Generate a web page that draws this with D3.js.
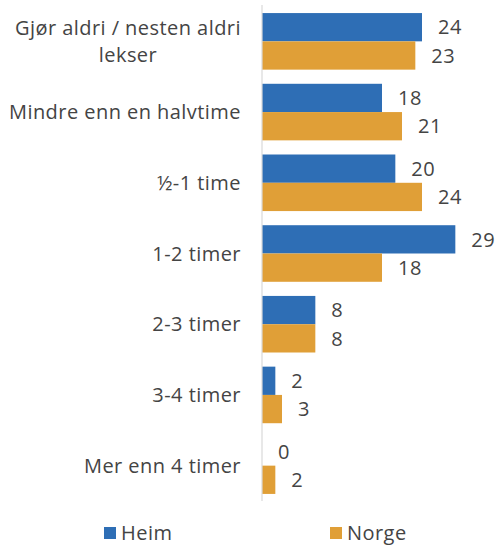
<!DOCTYPE html>
<html>
<head>
<meta charset="utf-8">
<script src="https://cdn.jsdelivr.net/npm/d3@7"></script>
<style>
  html, body { margin: 0; padding: 0; background: #fff; }
  svg { display: block; }
  text { font-family: "Open Sans", "Noto Sans", sans-serif; fill: #444; letter-spacing: 0.45px; }
</style>
</head>
<body>
<svg id="chart" width="503" height="546"></svg>
<script>
// Time spent on homework: Heim vs. Norge (percent)
const categories = [
  ["Gjør aldri / nesten aldri", "lekser"],
  ["Mindre enn en halvtime"],
  ["½-1 time"],
  ["1-2 timer"],
  ["2-3 timer"],
  ["3-4 timer"],
  ["Mer enn 4 timer"]
];
const seriesNames = ["Heim", "Norge"];
const heim  = [24, 18, 20, 29, 8, 2, 0];
const norge = [23, 21, 24, 18, 8, 3, 2];
const colors = ["#2E6EB5", "#E09F37"];

const svg = d3.select("#chart");
const axisX = 262;
const fontSize = 20;

const y = d3.scaleBand()
  .domain(d3.range(categories.length))
  .range([6, 501])
  .paddingInner(0.2)
  .paddingOuter(0.1);

const ySub = d3.scaleBand()
  .domain(seriesNames)
  .range([0, y.bandwidth()]);

const x = d3.scaleLinear()
  .domain([0, 30])
  .range([axisX, axisX + 200]);

const seriesData = [heim, norge];

// Bars
const groups = svg.append("g").selectAll("g")
  .data(categories.map((c, i) => i))
  .join("g")
  .attr("transform", i => `translate(0,${y(i)})`);

seriesNames.forEach((name, s) => {
  groups.append("rect")
    .attr("x", x(0))
    .attr("y", ySub(name))
    .attr("width", i => x(seriesData[s][i]) - x(0))
    .attr("height", ySub.bandwidth())
    .attr("fill", colors[s]);

  groups.append("text")
    .attr("x", i => x(seriesData[s][i]) + 16)
    .attr("y", ySub(name) + ySub.bandwidth() / 2)
    .attr("dy", "0.36em")
    .attr("font-size", fontSize)
    .text(i => seriesData[s][i]);
});

// Category axis line
svg.append("line")
  .attr("x1", axisX).attr("x2", axisX)
  .attr("y1", 5).attr("y2", 501)
  .attr("stroke", "#d9d9d9")
  .attr("stroke-width", 1.2);

// Category labels: each block centred on its widest line, right edge near the axis
const lineGap = 27;
svg.append("g").selectAll("text")
  .data(categories)
  .join("text")
  .attr("text-anchor", "middle")
  .attr("font-size", fontSize)
  .attr("transform", (d, i) => `translate(0,${y(i) + y.bandwidth() / 2})`)
  .each(function(lines) {
    const t = d3.select(this);
    const off = -(lines.length - 1) * lineGap / 2;
    lines.forEach((ln, k) => {
      t.append("tspan")
        .attr("y", off + k * lineGap)
        .attr("dy", "0.36em")
        .text(ln);
    });
  })
  .each(function() {
    const t = d3.select(this);
    const w = d3.max(t.selectAll("tspan").nodes(), n => n.getComputedTextLength());
    const cx = axisX - 21 - w / 2;
    t.selectAll("tspan").attr("x", cx);
  });

// Legend
const legendItems = [
  { name: seriesNames[0], color: colors[0], x: 104 },
  { name: seriesNames[1], color: colors[1], x: 330 }
];
const legend = svg.append("g").selectAll("g")
  .data(legendItems)
  .join("g")
  .attr("transform", d => `translate(${d.x},527)`);
legend.append("rect")
  .attr("width", 12).attr("height", 12)
  .attr("fill", d => d.color);
legend.append("text")
  .attr("x", 17)
  .attr("y", 6)
  .attr("dy", "0.36em")
  .attr("font-size", fontSize)
  .text(d => d.name);
</script>
</body>
</html>
